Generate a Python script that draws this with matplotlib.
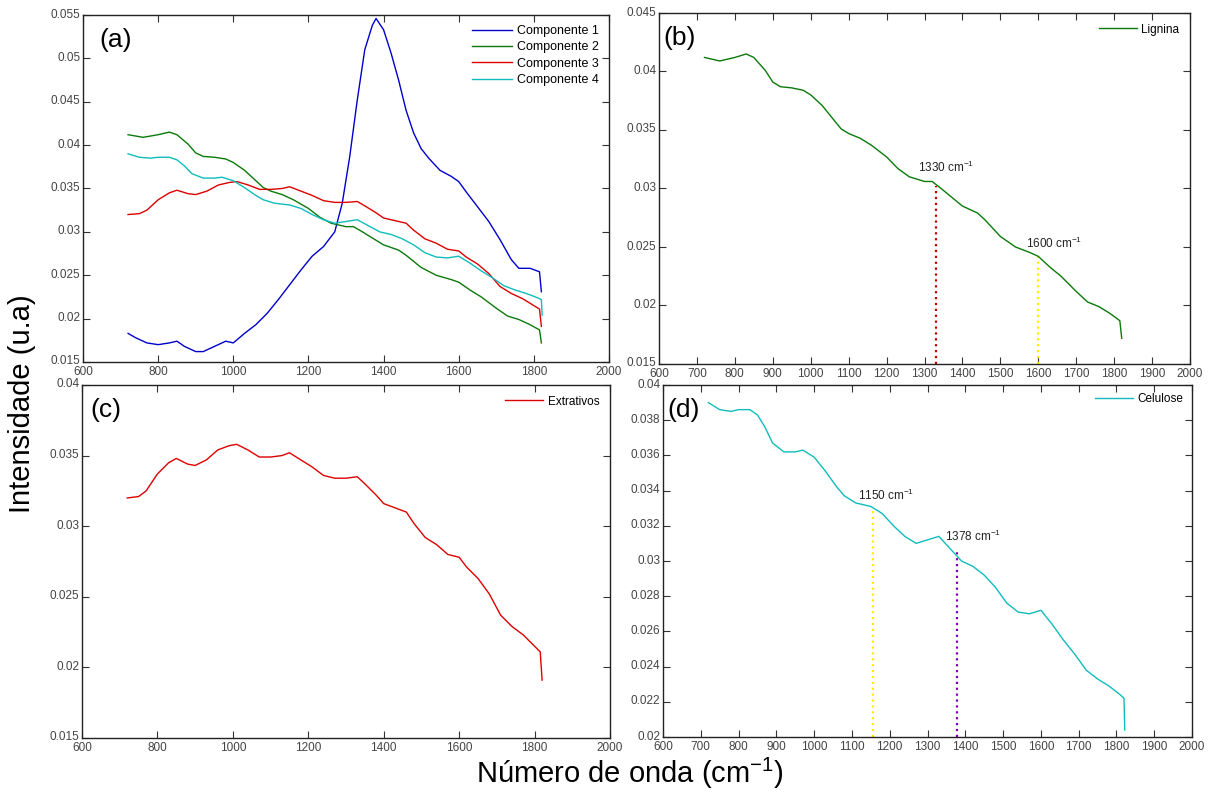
import matplotlib
matplotlib.use("Agg")
import matplotlib.pyplot as plt
import matplotlib.transforms as mtransforms
from matplotlib.ticker import FixedLocator, FuncFormatter

plt.rcParams['font.family'] = ['Liberation Sans', 'DejaVu Sans']
plt.rcParams['mathtext.fontset'] = 'custom'
plt.rcParams['mathtext.rm'] = 'Liberation Sans'
plt.rcParams['mathtext.it'] = 'Liberation Sans:italic'
plt.rcParams['mathtext.bf'] = 'Liberation Sans:bold'

# ---------------- data ----------------
x_c1 = [720, 740, 770, 800, 830, 850, 870, 900, 920, 950, 980, 1000, 1030, 1060, 1090,
        1120, 1150, 1180, 1210, 1240, 1270, 1290, 1310, 1330, 1350, 1370, 1380, 1400,
        1420, 1440, 1460, 1480, 1500, 1520, 1550, 1580, 1600, 1620, 1650, 1680, 1710,
        1740, 1760, 1790, 1815, 1820]
y_c1 = [0.0183, 0.0178, 0.0172, 0.0170, 0.0172, 0.0174, 0.0168, 0.0162, 0.0162, 0.0168,
        0.0174, 0.0172, 0.0183, 0.0193, 0.0206, 0.0222, 0.0239, 0.0256, 0.0272, 0.0283,
        0.0300, 0.0333, 0.0387, 0.0452, 0.0510, 0.0538, 0.0546, 0.0533, 0.0506, 0.0475,
        0.0440, 0.0414, 0.0396, 0.0385, 0.0371, 0.0364, 0.0358, 0.0346, 0.0329, 0.0312,
        0.0291, 0.0268, 0.0258, 0.0258, 0.0254, 0.0231]

x_c2 = [720, 760, 800, 830, 850, 880, 900, 920, 950, 980, 1000, 1030, 1050, 1080, 1100,
        1130, 1160, 1200, 1230, 1260, 1300, 1320, 1340, 1370, 1400, 1440, 1460, 1500,
        1540, 1580, 1600, 1630, 1660, 1700, 1730, 1760, 1790, 1815, 1820]
y_c2 = [0.0412, 0.0409, 0.0412, 0.0415, 0.0412, 0.0401, 0.0391, 0.0387, 0.0386, 0.0384,
        0.0380, 0.0371, 0.0363, 0.0351, 0.0347, 0.0343, 0.0337, 0.0327, 0.0317, 0.0310,
        0.0306, 0.0306, 0.0301, 0.0293, 0.0285, 0.0279, 0.0273, 0.0259, 0.0250, 0.0245,
        0.0242, 0.0233, 0.0225, 0.0212, 0.0203, 0.0199, 0.0193, 0.0187, 0.0172]

x_c3 = [720, 750, 770, 800, 830, 850, 880, 900, 930, 960, 990, 1010, 1040, 1070, 1100,
        1130, 1150, 1180, 1210, 1240, 1270, 1300, 1330, 1350, 1380, 1400, 1430, 1460,
        1480, 1510, 1540, 1570, 1600, 1620, 1650, 1680, 1710, 1740, 1770, 1800, 1815, 1820]
y_c3 = [0.0320, 0.0321, 0.0325, 0.0337, 0.0345, 0.0348, 0.0344, 0.0343, 0.0347, 0.0354,
        0.0357, 0.0358, 0.0354, 0.0349, 0.0349, 0.0350, 0.0352, 0.0347, 0.0342, 0.0336,
        0.0334, 0.0334, 0.0335, 0.0330, 0.0322, 0.0316, 0.0313, 0.0310, 0.0302, 0.0292,
        0.0287, 0.0280, 0.0278, 0.0271, 0.0263, 0.0252, 0.0237, 0.0229, 0.0223, 0.0215,
        0.0211, 0.0191]

x_c4 = [720, 750, 780, 800, 830, 850, 870, 890, 920, 950, 970, 1000, 1030, 1060, 1080,
        1110, 1150, 1180, 1210, 1240, 1270, 1300, 1330, 1360, 1390, 1420, 1450, 1480,
        1510, 1540, 1570, 1600, 1630, 1660, 1690, 1720, 1750, 1780, 1810, 1820, 1822]
y_c4 = [0.0390, 0.0386, 0.0385, 0.0386, 0.0386, 0.0383, 0.0376, 0.0367, 0.0362, 0.0362,
        0.0363, 0.0359, 0.0351, 0.0342, 0.0337, 0.0333, 0.0331, 0.0327, 0.0320, 0.0314,
        0.0310, 0.0312, 0.0314, 0.0307, 0.0300, 0.0297, 0.0292, 0.0285, 0.0276, 0.0271,
        0.0270, 0.0272, 0.0264, 0.0255, 0.0247, 0.0238, 0.0233, 0.0229, 0.0224, 0.0222,
        0.0204]

series_names = ['Componente 1', 'Componente 2', 'Componente 3', 'Componente 4']
series_colors = ['#0000cc', '#0a7a0a', '#dd0000', '#10bcbc']

# marker lines: (wavenumber, top intensity, label text position)
b_marks_x = [1330, 1600]
b_marks_top = [0.0302, 0.0242]
b_marks_color = ['#c00000', '#ffee00']
b_text_xy = [(1283, 0.0318), (1568, 0.0253)]

d_marks_x = [1155, 1378]
d_marks_label = [1150, 1378]
d_marks_top = [0.0329, 0.0307]
d_marks_color = ['#ffee00', '#8000b0']
d_text_xy = [(1116, 0.0337), (1346, 0.0314)]

# ---------------- figure ----------------
W, H = 1212, 792
fig = plt.figure(figsize=(W / 100, H / 100), dpi=100)


def px_axes(x0, y0, x1, y1):
    return fig.add_axes([x0 / W, 1 - y1 / H, (x1 - x0) / W, (y1 - y0) / H])


ax_a = px_axes(83, 15, 609, 362)
ax_b = px_axes(659, 13, 1190, 364)
ax_c = px_axes(82, 385, 610, 738)
ax_d = px_axes(663, 385, 1192, 737)

fmt = FuncFormatter(lambda v, p: f'{v:g}')
raise_up = mtransforms.ScaledTranslation(0, 2 / 100, fig.dpi_scale_trans)
push_down = mtransforms.ScaledTranslation(0, -1 / 100, fig.dpi_scale_trans)


def style(ax, xt, yt, ylim):
    ax.set_xlim(600, 2000)
    ax.set_ylim(*ylim)
    ax.xaxis.set_major_locator(FixedLocator(xt))
    ax.yaxis.set_major_locator(FixedLocator(yt))
    ax.xaxis.set_major_formatter(fmt)
    ax.yaxis.set_major_formatter(fmt)
    ax.tick_params(direction='in', length=5, width=0.8, top=True, right=True,
                   labelsize=8.5, labelcolor='#444444', pad=2, color='#333333')
    for s in ax.spines.values():
        s.set_linewidth(1.0)
        s.set_color('#222222')
    fig.canvas.draw()
    for lab in ax.get_yticklabels():
        lab.set_transform(lab.get_transform() + raise_up)
    for lab in ax.get_xticklabels():
        lab.set_transform(lab.get_transform() + push_down)


xt_a = list(range(600, 2001, 200))
xt_b = list(range(600, 2001, 100))

# (a)
for xs, ys, n, c in zip([x_c1, x_c2, x_c3, x_c4], [y_c1, y_c2, y_c3, y_c4],
                        series_names, series_colors):
    ax_a.plot(xs, ys, color=c, lw=1.0, label=n)
style(ax_a, xt_a, [0.015 + 0.005 * i for i in range(9)], (0.015, 0.055))
ax_a.legend(loc='upper right', frameon=False, fontsize=9, handlelength=3.2,
            handletextpad=0.4, labelspacing=0.35, borderaxespad=0.4)

# (b)
for mx, mt, mc in zip(b_marks_x, b_marks_top, b_marks_color):
    ax_b.plot([mx, mx], [0.015, mt], color=mc, lw=1.6, ls=':')
ax_b.plot(x_c2, y_c2, color=series_colors[1], lw=1.0, label='Lignina')
for (tx, ty), mx in zip(b_text_xy, b_marks_x):
    ax_b.text(tx, ty, f'{mx} cm$^{{-1}}$', fontsize=8.5, color='#222222',
              va='center', ha='left')
style(ax_b, xt_b, [0.015 + 0.005 * i for i in range(7)], (0.015, 0.045))
ax_b.legend(loc='upper right', frameon=False, fontsize=8.5, handlelength=3.2,
            handletextpad=0.4, borderaxespad=0.5)

# (c)
ax_c.plot(x_c3, y_c3, color=series_colors[2], lw=1.0, label='Extrativos')
style(ax_c, xt_a, [0.015 + 0.005 * i for i in range(6)], (0.015, 0.04))
ax_c.legend(loc='upper right', frameon=False, fontsize=8.5, handlelength=3.2,
            handletextpad=0.4, borderaxespad=0.5)

# (d)
for mx, mt, mc in zip(d_marks_x, d_marks_top, d_marks_color):
    ax_d.plot([mx, mx], [0.02, mt], color=mc, lw=1.6, ls=':')
ax_d.plot(x_c4, y_c4, color=series_colors[3], lw=1.0, label='Celulose')
for (tx, ty), lab in zip(d_text_xy, d_marks_label):
    ax_d.text(tx, ty, f'{lab} cm$^{{-1}}$', fontsize=8.5, color='#222222',
              va='center', ha='left')
style(ax_d, xt_b, [0.02 + 0.002 * i for i in range(11)], (0.02, 0.04))
ax_d.legend(loc='upper right', frameon=False, fontsize=8.5, handlelength=3.2,
            handletextpad=0.4, borderaxespad=0.3)

# panel letters
for ax, lab, (x0, x1) in zip([ax_a, ax_b, ax_c, ax_d], ['(a)', '(b)', '(c)', '(d)'],
                             [(83, 609), (659, 1190), (82, 610), (663, 1192)]):
    off = {'(a)': 16, '(b)': 4, '(c)': 8, '(d)': 4}[lab]
    ax.text(off / (x1 - x0), 1 - 25 / 350, lab, transform=ax.transAxes,
            fontsize=19, va='center', ha='left', color='black')

fig.text(0.018, 0.49, 'Intensidade (u.a)', rotation=90, fontsize=21,
         va='center', ha='center')
fig.text(0.52, 0.024, 'Número de onda (cm$^{-1}$)', fontsize=21,
         va='center', ha='center')

fig.savefig('out.png', dpi=100)
